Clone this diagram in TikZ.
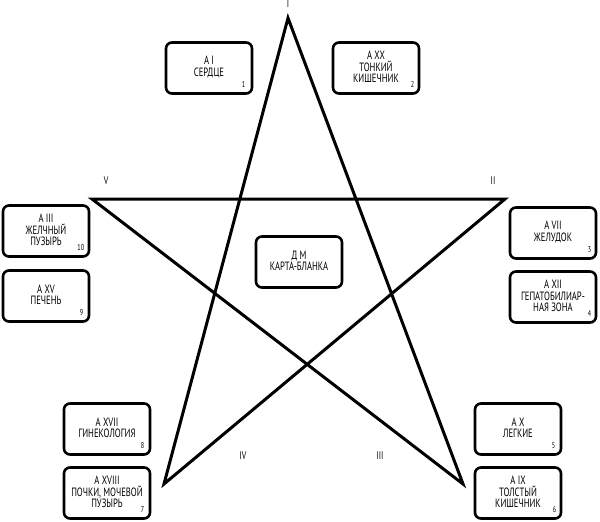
\documentclass[tikz,border=0pt]{standalone}
\usepackage{fontspec}
\setmainfont[FakeStretch=0.72]{PT Sans}
\begin{document}
\begin{tikzpicture}[x=1pt,y=-1pt,
  box/.style={draw,line width=2.6pt,rounded corners=6pt,minimum width=86pt,minimum height=51pt,inner sep=0pt},
  txt/.style={align=center,font=\fontsize{12}{11.5}\selectfont,inner sep=0pt},
  num/.style={font=\fontsize{8.5}{8.5}\selectfont,anchor=south east,inner sep=0pt},
  star/.style={line width=3pt,line join=miter},
  lab/.style={font=\fontsize{11}{11}\selectfont}]
\useasboundingbox (0,0) rectangle (600,522);
\coordinate (P1) at (288,18);
\coordinate (P2) at (505,199);
\coordinate (P3) at (463,484);
\coordinate (P4) at (164,484);
\coordinate (P5) at (92,199);
\draw[star] (P1) -- (P3) -- (P5) -- (P2) -- (P4) -- cycle;
\node[lab] (l1) at (288,4) {I};
\node[lab] (l2) at (493,181) {II};
\node[lab] (l3) at (380,456) {III};
\node[lab] (l4) at (243,456) {IV};
\node[lab] (l5) at (106,181) {V};
\newcommand{\obox}[5]{%
  \node[box] (#1) at (#2) {};
  \node[txt] (#1t) at ([yshift=1pt]#1.center) {#3};
  \node[num] (#1n) at ([xshift=-#5pt,yshift=7pt]#1.south east) {#4};}
\obox{b1}{209,68}{A I\\СЕРДЦЕ}{1}{8}
\obox{b2}{376,68}{A XX\\ТОНКИЙ\\КИШЕЧНИК}{2}{6}
\obox{b10}{46,231}{A III\\ЖЕЛЧНЫЙ\\ПУЗЫРЬ}{10}{6}
\obox{b9}{46,296}{A XV\\ПЕЧЕНЬ}{9}{7}
\obox{b3}{553,233}{A VII\\ЖЕЛУДОК}{3}{6}
\obox{b4}{553,297}{A XII\\ГЕПАТОБИЛИАР-\\НАЯ ЗОНА}{4}{6}
\obox{bc}{299,262}{Д М\\КАРТА-БЛАНКА}{}{6}
\obox{b8}{107,429}{A XVII\\ГИНЕКОЛОГИЯ}{8}{7}
\obox{b7}{107,493}{A XVIII\\ПОЧКИ, МОЧЕВОЙ\\ПУЗЫРЬ}{7}{7}
\obox{b5}{518,429}{A X\\ЛЕГКИЕ}{5}{7}
\obox{b6}{518,493}{A IX\\ТОЛСТЫЙ\\КИШЕЧНИК}{6}{6}
\end{tikzpicture}
\end{document}
